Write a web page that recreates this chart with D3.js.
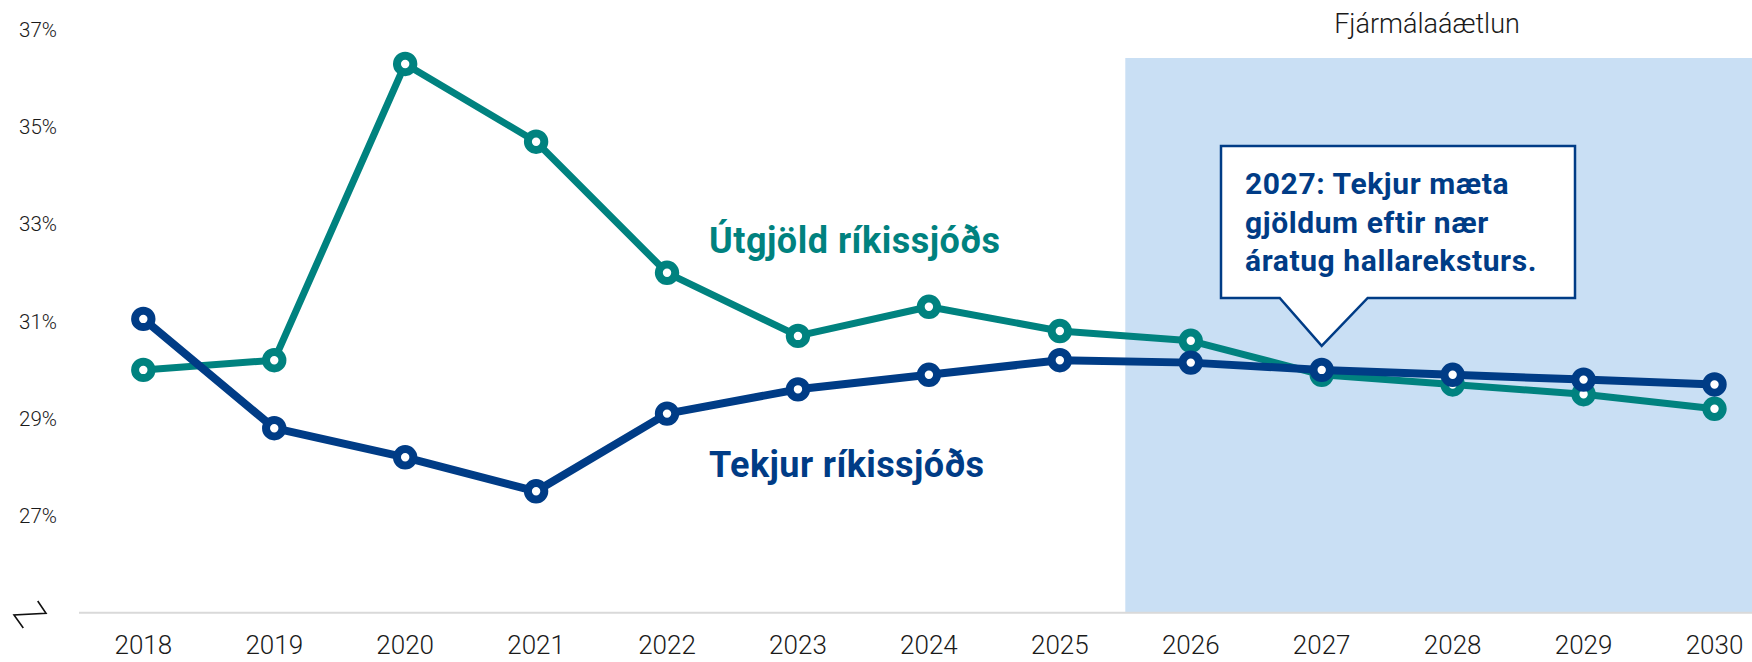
<!DOCTYPE html>
<html>
<head>
<meta charset="utf-8">
<script src="https://cdn.jsdelivr.net/npm/d3@7"></script>
<style>
  body { margin: 0; background: #fff; }
  .canvas { width: 1752px; height: 662px; }
  text { font-family: Roboto, "Noto Sans", sans-serif; }
</style>
</head>
<body>
<div class="canvas"></div>
<script>
// data
const years = [2018, 2019, 2020, 2021, 2022, 2023, 2024, 2025, 2026, 2027, 2028, 2029, 2030];
const utgjold = [30.0, 30.2, 36.3, 34.7, 32.0, 30.7, 31.3, 30.8, 30.6, 29.9, 29.7, 29.5, 29.2];
const tekjur = [31.05, 28.8, 28.2, 27.5, 29.1, 29.6, 29.9, 30.2, 30.15, 30.0, 29.9, 29.8, 29.7];
const yTicks = [27, 29, 31, 33, 35, 37];
const planStart = 2025.5;
const noteLines = ['2027: Tekjur mæta', 'gjöldum eftir nær', 'áratug hallareksturs.'];

const dims = {width: 1752, height: 662};
const colors = {teal: '#00827f', navy: '#003c86', band: '#c9dff4', axis: '#d9d9d9', text: '#1a1a1a'};

const svg = d3.select('.canvas').append('svg')
  .attr('width', dims.width)
  .attr('height', dims.height);

const x = d3.scaleLinear().domain([2018, 2030]).range([143.3, 1714.5]);
const y = d3.scaleLinear().domain([25, 37]).range([612.7, 30]);

// forecast band
svg.append('rect')
  .attr('x', x(planStart))
  .attr('y', 58)
  .attr('width', dims.width - x(planStart))
  .attr('height', y(25) - 58)
  .attr('fill', colors.band);

svg.append('text')
  .attr('x', 1427)
  .attr('y', 33)
  .attr('text-anchor', 'middle')
  .attr('font-size', 27)
  .attr('font-weight', 300)
  .attr('fill', colors.text)
  .text('Fjármálaáætlun');

// baseline
svg.append('line')
  .attr('x1', 79).attr('x2', dims.width)
  .attr('y1', y(25)).attr('y2', y(25))
  .attr('stroke', colors.axis)
  .attr('stroke-width', 2);

// axis break mark
svg.append('path')
  .attr('d', 'M37.7,601 L46,613.3 L14,615 L23.3,628')
  .attr('fill', 'none')
  .attr('stroke', '#111')
  .attr('stroke-width', 1.6);

// y labels
svg.append('g').selectAll('text')
  .data(yTicks)
  .enter().append('text')
  .attr('x', 57)
  .attr('y', d => y(d))
  .attr('dy', '0.35em')
  .attr('text-anchor', 'end')
  .attr('font-size', 20.5)
  .attr('font-weight', 300)
  .attr('fill', colors.text)
  .text(d => d + '%');

// x labels
svg.append('g').selectAll('text')
  .data(years)
  .enter().append('text')
  .attr('x', d => x(d))
  .attr('y', 654)
  .attr('text-anchor', 'middle')
  .attr('font-size', 26)
  .attr('font-weight', 300)
  .attr('fill', colors.text)
  .text(d => d);

// series
const drawSeries = (values, color, width) => {
  const pts = years.map((yr, i) => ({yr, v: values[i]}));
  const line = d3.line().x(d => x(d.yr)).y(d => y(d.v));
  const g = svg.append('g');
  g.append('path')
    .attr('d', line(pts))
    .attr('fill', 'none')
    .attr('stroke', color)
    .attr('stroke-width', width)
    .attr('stroke-linejoin', 'round');
  g.selectAll('circle')
    .data(pts)
    .enter().append('circle')
    .attr('cx', d => x(d.yr))
    .attr('cy', d => y(d.v))
    .attr('r', 8.2)
    .attr('fill', '#fff')
    .attr('stroke', color)
    .attr('stroke-width', 8);
};

drawSeries(utgjold, colors.teal, 7);
drawSeries(tekjur, colors.navy, 8);

// series labels
svg.append('text')
  .attr('x', 709).attr('y', 253)
  .attr('font-size', 36)
  .attr('font-weight', 700)
  .attr('letter-spacing', 0.5)
  .attr('fill', colors.teal)
  .text('Útgjöld ríkissjóðs');

svg.append('text')
  .attr('x', 709).attr('y', 477)
  .attr('font-size', 36)
  .attr('font-weight', 700)
  .attr('letter-spacing', 0.4)
  .attr('fill', colors.navy)
  .text('Tekjur ríkissjóðs');

// callout box
const tipX = x(2027);
const tipY = y(tekjur[9]) - 24;
const box = {l: 1221, r: 1575, t: 146, b: 298};
svg.append('path')
  .attr('d', `M${box.l},${box.t} H${box.r} V${box.b} H${tipX + 46} L${tipX},${tipY} L${tipX - 42},${box.b} H${box.l} Z`)
  .attr('fill', '#fff')
  .attr('stroke', colors.navy)
  .attr('stroke-width', 2.5)
  .attr('stroke-linejoin', 'miter');

svg.append('g').selectAll('text')
  .data(noteLines)
  .enter().append('text')
  .attr('x', 1245)
  .attr('y', (d, i) => 194 + i * 38.5)
  .attr('font-size', 30)
  .attr('font-weight', 700)
  .attr('letter-spacing', 0.6)
  .attr('fill', colors.navy)
  .text(d => d);
</script>
</body>
</html>
